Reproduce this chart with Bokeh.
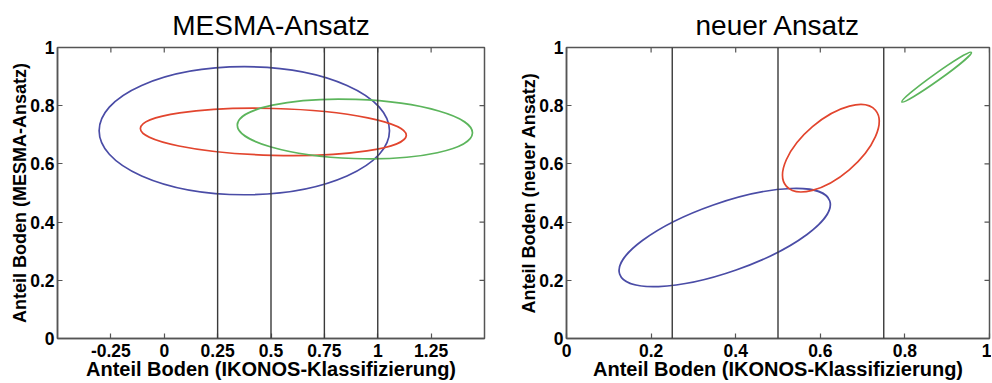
from bokeh.plotting import figure
from bokeh.models import FixedTicker, Span, Range1d, ColumnDataSource
from bokeh.layouts import row
from bokeh.embed import file_html
from bokeh.resources import INLINE

# ---------------- data ----------------
left_title = "MESMA-Ansatz"
right_title = "neuer Ansatz"
x_label = "Anteil Boden (IKONOS-Klassifizierung)"
left_ylabel = "Anteil Boden (MESMA-Ansatz)"
right_ylabel = "Anteil Boden (neuer Ansatz)"

left_xticks = [-0.25, 0.0, 0.25, 0.5, 0.75, 1.0, 1.25]
left_xlabels = ["-0.25", "0", "0.25", "0.5", "0.75", "1", "1.25"]
right_xticks = [0.0, 0.2, 0.4, 0.6, 0.8, 1.0]
right_xlabels = ["0", "0.2", "0.4", "0.6", "0.8", "1"]
yticks = [0.0, 0.2, 0.4, 0.6, 0.8, 1.0]
ylabels = ["0", "0.2", "0.4", "0.6", "0.8", "1"]

left_vlines = [0.25, 0.5, 0.75, 1.0]
right_vlines = [0.25, 0.5, 0.75]

ellipse_colors = ["#4a4ca6", "#e2452e", "#5cb55c"]

left_cx = [0.375, 0.511, 0.893]
left_cy = [0.714, 0.710, 0.720]
left_w = [1.36, 1.246, 1.102]
left_h = [0.44, 0.161, 0.203]
left_angle = [0.0, -1.5, -2.0]

right_cx = [0.374, 0.625, 0.875]
right_cy = [0.347, 0.654, 0.898]
right_w = [0.526, 0.277, 0.202]
right_h = [0.237, 0.195, 0.024]
right_angle = [19.3, 40.4, 35.5]

FONT = "Liberation Sans"
AXIS_COLOR = "#555555"


def style_axis(ax, ticks, labels, label_size):
    ax.ticker = FixedTicker(ticks=ticks)
    ax.major_label_overrides = {float(t): l for t, l in zip(ticks, labels)}
    ax.major_tick_in = 5
    ax.major_tick_out = 0
    ax.minor_tick_in = 0
    ax.minor_tick_out = 0
    ax.major_tick_line_color = AXIS_COLOR
    ax.major_tick_line_width = 1.2
    ax.axis_line_color = AXIS_COLOR
    ax.axis_line_width = 1.5
    ax.major_label_text_font = FONT
    ax.major_label_text_font_style = "bold"
    ax.major_label_text_color = "black"
    ax.major_label_text_font_size = "17.5px"
    ax.major_label_standoff = 5
    ax.axis_label_text_font = FONT
    ax.axis_label_text_font_style = "bold"
    ax.axis_label_text_font_size = label_size
    ax.axis_label_text_color = "black"
    ax.axis_label_standoff = -2


def make(title, xr, xticks, xlabels, ylabel, vlines, cx, cy, w, h, ang,
         width, bl, br):
    p = figure(width=width, height=382,
               x_range=Range1d(*xr), y_range=Range1d(0, 1),
               output_backend="svg", toolbar_location=None,
               min_border_left=bl, min_border_right=br,
               min_border_top=47, min_border_bottom=35)
    p.title.text = title
    p.title.align = "center"
    p.title.text_font = FONT
    p.title.text_font_style = "normal"
    p.title.text_font_size = "28px"
    p.title.text_color = "black"
    p.title.standoff = 13
    p.grid.visible = False
    p.outline_line_color = AXIS_COLOR
    p.outline_line_width = 1.5
    p.background_fill_color = "white"
    p.border_fill_color = "white"

    style_axis(p.xaxis[0], xticks, xlabels, "20px")
    style_axis(p.yaxis[0], yticks, ylabels, "18px")
    p.yaxis[0].major_label_standoff = 3
    p.yaxis[0].axis_label_standoff = -3
    p.xaxis[0].axis_label = x_label
    p.yaxis[0].axis_label = ylabel

    # inward tick marks on the top and right frame edges
    p.ray(x=xticks, y=[1.0] * len(xticks), length=5, angle=-90,
          angle_units="deg", length_units="screen",
          line_color=AXIS_COLOR, line_width=1.2)
    p.ray(x=[xr[1]] * len(yticks), y=yticks, length=5, angle=180,
          angle_units="deg", length_units="screen",
          line_color=AXIS_COLOR, line_width=1.2)

    for v in vlines:
        p.add_layout(Span(location=v, dimension="height",
                          line_color="#3a3a3a", line_width=1.4))

    src = ColumnDataSource(dict(x=cx, y=cy, w=w, h=h, a=ang,
                                c=ellipse_colors))
    p.ellipse(x="x", y="y", width="w", height="h", angle="a",
              angle_units="deg", source=src, fill_color=None,
              line_color="c", line_width=1.7)
    return p


p1 = make(left_title, (-0.5, 1.5), left_xticks, left_xlabels, left_ylabel,
          left_vlines, left_cx, left_cy, left_w, left_h, left_angle,
          496, 57, 12)
p2 = make(right_title, (0, 1), right_xticks, right_xlabels, right_ylabel,
          right_vlines, right_cx, right_cy, right_w, right_h, right_angle,
          495, 70, 2)

layout = row(p1, p2)
open("out.html", "w").write(file_html(layout, INLINE))
